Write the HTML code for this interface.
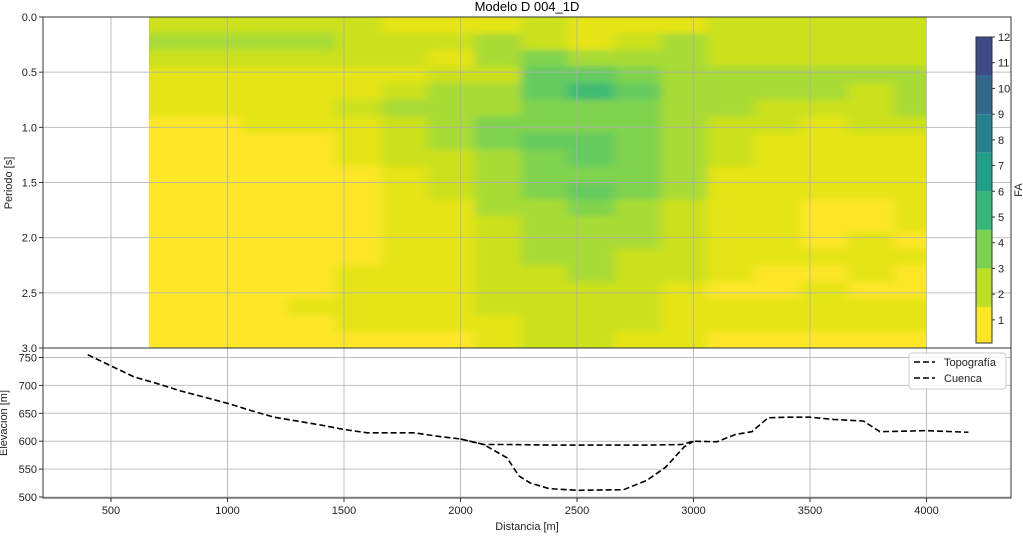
<!DOCTYPE html>
<html><head><meta charset="utf-8">
<style>
body{margin:0;background:#fff;}
svg{display:block;font-family:"Liberation Sans","DejaVu Sans",sans-serif;}
</style></head>
<body>
<svg id="chart" width="1023" height="537" xmlns="http://www.w3.org/2000/svg">
<defs>
<filter id="soft" x="-5%" y="-5%" width="110%" height="110%"><feGaussianBlur stdDeviation="5 3"/></filter>
<clipPath id="heatclip"><rect x="149" y="17" width="777" height="331"/></clipPath>
</defs>
</svg>
<script>
// ---- data ----
const distStarts = [660,860,1060,1260,1460,1660,1860,2060,2260,2460,2660,2860,3060,3260,3460,3660,3860];
const periodStarts = [0,0.15,0.3,0.45,0.6,0.75,0.9,1.05,1.2,1.35,1.5,1.65,1.8,1.95,2.1,2.25,2.4,2.55,2.7,2.85];
const faLevels = [
"22222111211122222",
"33332223212322222",
"22222213433322222",
"11111122554333333",
"11111233565333323",
"11112333444332223",
"00111234444322122",
"00001234554321111",
"00001223454321111",
"00000123444311111",
"00000123454311111",
"00000113343211001",
"00000112333211001",
"00000112333211010",
"00000112332211111",
"00001112232210010",
"00001112222100100",
"00011112222111111",
"00001111222111111",
"00000001221100000"
];
const levelColors = ["#fde725","#e5e419","#cae11f","#a8db34","#7fd34e","#65cb5e","#3fbc73","#28ae80"];
const cbBounds = [0.1,1.5,3,4.5,6,7.5,9,10.5,12];
const cbColors = ["#fde725","#bddf26","#7ad151","#35b779","#1f9e89","#26828e","#31688e","#3e4a89"];
const cbTicks = [1,2,3,4,5,6,7,8,9,10,11,12];
const topoX = [400,500,600,700,800,900,1000,1100,1200,1300,1400,1500,1600,1700,1800,1900,2000,2100,2200,2400,2600,2800,2950,3000,3100,3180,3250,3320,3400,3500,3600,3730,3800,3900,4000,4180];
const topoY = [755,735,715,703,690,679,668,655,643,636,629,621,615,615,615,609,604,594,594,593,593,593,594,600,599,612,617,642,643,643,639,636,617,618,619,616];
const basinX = [2000,2100,2200,2250,2300,2380,2500,2700,2800,2880,2960,3000];
const basinY = [604,594,570,538,525,515,512,513,530,553,590,600];
const xTicks = [500,1000,1500,2000,2500,3000,3500,4000];
const pTicks = [0,0.5,1,1.5,2,2.5,3];
const eTicks = [500,550,600,650,700,750];

// ---- scales ----
const L=43,R=1011,T1=17,B1=348,T2=348,B2=498;
const xs = d => 111 + (d-500)*(116.5/500);
const ys1 = p => T1 + p*(B1-T1)/3;
const ys2 = e => 497 - (e-500)*(139.5/250);
const cbY = v => 343 - (v-0.1)*(306/11.9);
const svg = document.getElementById('chart');
const NS='http://www.w3.org/2000/svg';
function mk(tag, attrs, parent){const e=document.createElementNS(NS,tag);for(const k in attrs)e.setAttribute(k,attrs[k]);(parent||svg).appendChild(e);return e;}

// heatmap
const gClip = mk('g',{'clip-path':'url(#heatclip)'});
const gHeat = mk('g',{filter:'url(#soft)'},gClip);


for(let r=0;r<periodStarts.length;r++){
  const p0=periodStarts[r], p1 = r+1<periodStarts.length?periodStarts[r+1]:3;
  for(let c=0;c<distStarts.length;c++){
    const d0=distStarts[c], d1=c+1<distStarts.length?distStarts[c+1]:4000;
    let x0=xs(d0), x1=xs(d1);
    let y0=ys1(p0), y1=ys1(p1);
    if(c===0) x0-=15;
    if(c===distStarts.length-1) x1+=15;
    if(r===0) y0-=15;
    if(r===periodStarts.length-1) y1+=15;
    const lv=+faLevels[r][c];
    const cell = mk('rect',{x:x0,y:y0,width:x1-x0+0.6,height:y1-y0+0.6,fill:levelColors[lv]},gHeat);
    
    
  }
}
// grids
xTicks.forEach(t=>{
  mk('line',{x1:xs(t),x2:xs(t),y1:T1,y2:B1,stroke:'#b0b0b0','stroke-width':1,opacity:0.8});
  mk('line',{x1:xs(t),x2:xs(t),y1:T2,y2:B2,stroke:'#b0b0b0','stroke-width':1,opacity:0.8});
});
pTicks.forEach(t=>mk('line',{x1:L,x2:R,y1:ys1(t),y2:ys1(t),stroke:'#b0b0b0','stroke-width':1,opacity:0.8}));
eTicks.forEach(t=>mk('line',{x1:L,x2:R,y1:ys2(t),y2:ys2(t),stroke:'#b0b0b0','stroke-width':1,opacity:0.8}));
// axes frames
const f1=mk('rect',{x:L,y:T1,width:R-L,height:B1-T1,fill:'none',stroke:'#333','stroke-width':1});

const f2=mk('rect',{x:L,y:T2,width:R-L,height:B2-T2,fill:'none',stroke:'#333','stroke-width':1});


// ticks & labels
pTicks.forEach(t=>{
  mk('line',{x1:L-4,x2:L,y1:ys1(t),y2:ys1(t),stroke:'#333'});
  const tx=mk('text',{x:L-6,y:ys1(t)+4,'font-size':11,'text-anchor':'end',fill:'#222'});tx.textContent=t.toFixed(1);
  
});
eTicks.forEach(t=>{
  mk('line',{x1:L-4,x2:L,y1:ys2(t),y2:ys2(t),stroke:'#333'});
  const tx=mk('text',{x:L-6,y:ys2(t)+4,'font-size':11,'text-anchor':'end',fill:'#222'});tx.textContent=t;
  
});
xTicks.forEach(t=>{
  mk('line',{x1:xs(t),x2:xs(t),y1:B2,y2:B2+4,stroke:'#333'});
  const tx=mk('text',{x:xs(t),y:B2+16,'font-size':11,'text-anchor':'middle',fill:'#222'});tx.textContent=t;
  
});

// lines
function pathOf(X,Y){return X.map((x,i)=>(i?'L':'M')+xs(x).toFixed(1)+','+ys2(Y[i]).toFixed(1)).join(' ');}
const topo=mk('path',{d:pathOf(topoX,topoY),fill:'none',stroke:'#000','stroke-width':1.6,'stroke-dasharray':'6,3'});

const basin=mk('path',{d:pathOf(basinX,basinY),fill:'none',stroke:'#000','stroke-width':1.6,'stroke-dasharray':'6,3'});


// colorbar
const gCb=mk('g',{});

for(let i=0;i<cbColors.length;i++){
  const y0=cbY(cbBounds[i+1]), y1=cbY(cbBounds[i]);
  const seg=mk('rect',{x:976,y:y0,width:16,height:y1-y0,fill:cbColors[i]},gCb);
  
}
mk('rect',{x:976,y:cbY(12),width:16,height:cbY(0.1)-cbY(12),fill:'none',stroke:'#333','stroke-width':1},gCb);
cbTicks.forEach(t=>{
  mk('line',{x1:992,x2:995,y1:cbY(t),y2:cbY(t),stroke:'#333'},gCb);
  const tx=mk('text',{x:998,y:cbY(t)+4,'font-size':11,fill:'#222'},gCb);tx.textContent=t;
  
});
</script>
<script>
const s=document.getElementById('chart');
function txt(attrs,content,name){const e=document.createElementNS('http://www.w3.org/2000/svg','text');for(const k in attrs)e.setAttribute(k,attrs[k]);e.textContent=content;


s.appendChild(e);}
txt({x:527,y:11,'font-size':13,'text-anchor':'middle',fill:'#000'},'Modelo D 004_1D','chart-title');
txt({x:12,y:183,'font-size':11,'text-anchor':'middle',transform:'rotate(-90 12 183)',fill:'#222'},'Periodo [s]','period-axis-title');
txt({x:7,y:423,'font-size':11,'text-anchor':'middle',transform:'rotate(-90 7 423)',fill:'#222'},'Elevacion [m]','elevation-axis-title');
txt({x:527,y:530,'font-size':11,'text-anchor':'middle',fill:'#222'},'Distancia [m]','distance-axis-title');
txt({x:1022,y:190,'font-size':11,'text-anchor':'middle',transform:'rotate(-90 1022 190)',fill:'#222'},'FA','colorbar-title');
// legend
const ns='http://www.w3.org/2000/svg';
const lg=document.createElementNS(ns,'g');


s.appendChild(lg);
const box=document.createElementNS(ns,'rect');
[['x',909],['y',353],['width',97],['height',36],['rx',3],['fill','#fff'],['fill-opacity',0.85],['stroke','#ccc']].forEach(a=>box.setAttribute(a[0],a[1]));
lg.appendChild(box);
[['Topografía',366],['Cuenca',382]].forEach(([lab,y])=>{
  const l=document.createElementNS(ns,'line');
  [['x1',914],['x2',935],['y1',y-4],['y2',y-4],['stroke','#000'],['stroke-width',1.6],['stroke-dasharray','6,3']].forEach(a=>l.setAttribute(a[0],a[1]));
  lg.appendChild(l);
  const t=document.createElementNS(ns,'text');
  t.setAttribute('x',944);t.setAttribute('y',y);t.setAttribute('font-size',11);t.setAttribute('fill','#222');
  t.textContent=lab;
  
  
  lg.appendChild(t);
});
</script>
</body></html>
